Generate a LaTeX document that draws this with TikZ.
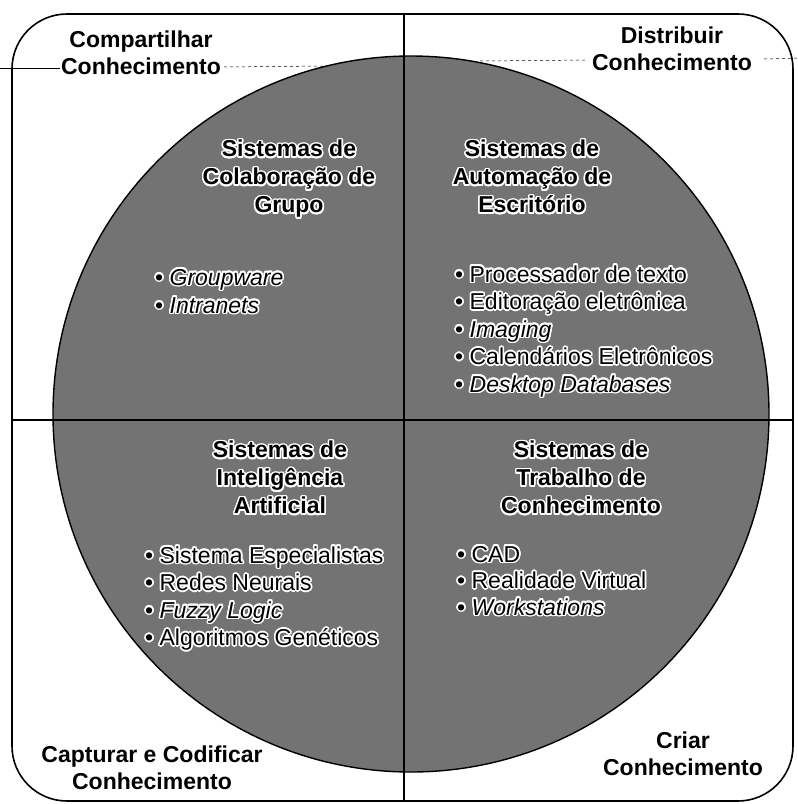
\documentclass[tikz,border=0pt]{standalone}
\usepackage{fontspec}
\setmainfont{Liberation Sans}
\usepackage{tikz}
\usepackage{contour}
\contourlength{1.6pt}
\newcommand{\hl}[1]{\contour{white}{#1}}
\tikzset{
  corner/.style={font=\fontsize{23}{27}\selectfont\bfseries, align=center, anchor=north, inner sep=0pt},
  heading/.style={font=\fontsize{23}{28}\selectfont\bfseries, align=center, anchor=north, inner sep=0pt},
  item/.style={font=\fontsize{23}{27}\selectfont, anchor=base west, inner sep=0pt}
}

\begin{document}
\begin{tikzpicture}[x=1pt, y=-1pt]
\useasboundingbox (0,0) rectangle (798,804);
\draw[line width=1.6pt, rounded corners=55pt] (12,14) rectangle (793,801);
\node[circle, draw, line width=1.4pt, fill=black!55, minimum size=716pt, inner sep=0pt] (disc) at (411,414) {};
\coordinate (top) at (404,14);
\coordinate (bottom) at (404,801);
\coordinate (left) at (12,420);
\coordinate (right) at (793,420);
\draw[line width=1.2pt] (top) -- (bottom);
\draw[line width=1.2pt] (left) -- (right);
% fold marks
\draw[line width=0.5pt] (0,68) -- (60,68);
\draw[line width=0.5pt, dashed] (224,67) -- (325,66);
\draw[line width=0.5pt, dashed] (480,61) -- (588,60);
\draw[line width=0.5pt, dashed] (764,59) -- (798,58);

\node[corner] (share) at (141,31) {Compartilhar\\Conhecimento};
\node[corner] (spread) at (672,27) {Distribuir\\Conhecimento};
\node[corner] (capture) at (152,746) {Capturar e Codificar\\Conhecimento};
\node[corner] (create) at (683,732) {Criar\\Conhecimento};

\node[heading] (groupHd) at (289,140) {\hl{Sistemas de}\\\hl{Colaboração de}\\\hl{Grupo}};
\node[heading] (officeHd) at (532,140) {\hl{Sistemas de}\\\hl{Automação de}\\\hl{Escritório}};
\node[heading] (aiHd) at (280,441) {\hl{Sistemas de}\\\hl{Inteligência}\\\hl{Artificial}};
\node[heading] (workHd) at (581,441) {\hl{Sistemas de}\\\hl{Trabalho de}\\\hl{Conhecimento}};

\foreach \t [count=\i from 0] in {{\itshape Groupware}, {\itshape Intranets}}
  \node[item] (group\i) at (155, 285+28*\i) {\hl{• \t}};
\foreach \t [count=\i from 0] in {Processador de texto, Editoração eletrônica, {\itshape Imaging}, Calendários Eletrônicos, {\itshape Desktop Databases}}
  \node[item] (office\i) at (455, 282+27.5*\i) {\hl{• \t}};
\foreach \t [count=\i from 0] in {Sistema Especialistas, Redes Neurais, {\itshape Fuzzy Logic}, Algoritmos Genéticos}
  \node[item] (ai\i) at (145, 563+27.5*\i) {\hl{• \t}};
\foreach \t [count=\i from 0] in {CAD, Realidade Virtual, {\itshape Workstations}}
  \node[item] (work\i) at (457, 562+26.5*\i) {\hl{• \t}};
\end{tikzpicture}
\end{document}
